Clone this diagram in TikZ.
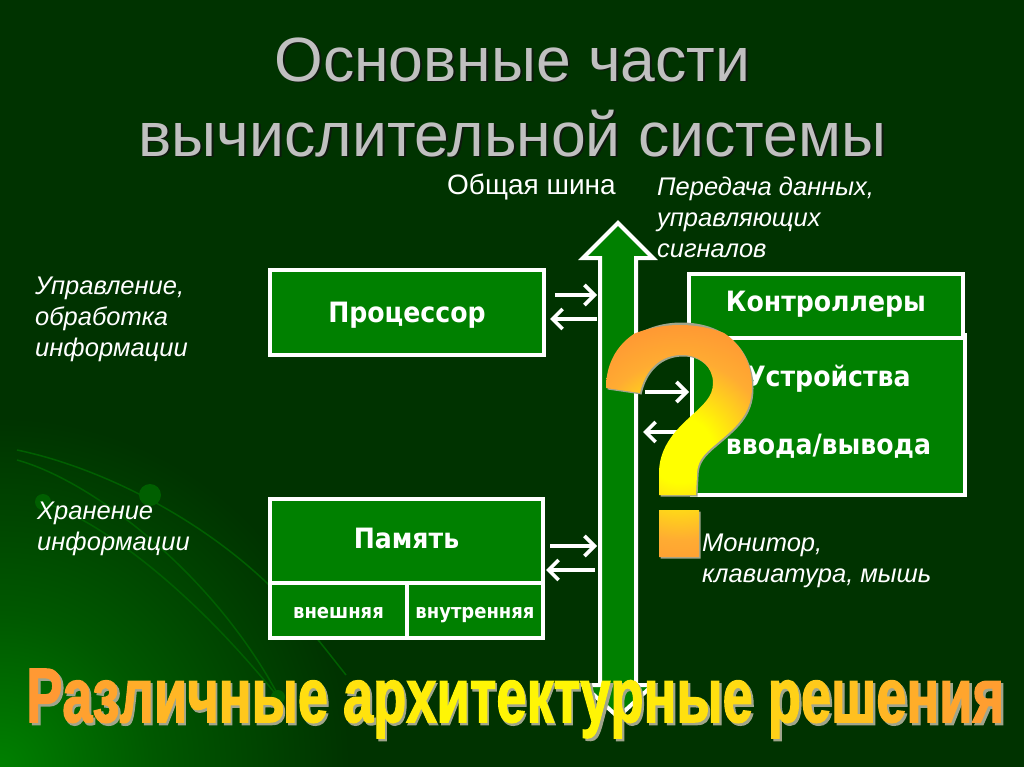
\documentclass[tikz,border=0pt]{standalone}
\usepackage{fontspec}
\usepackage{graphicx}
\usetikzlibrary{arrows.meta}
\setmainfont{Liberation Sans}
\newfontfamily\boxf{DejaVu Sans Condensed Bold}
\newfontfamily\heavyf[FakeBold=2]{Liberation Sans Bold}
\definecolor{bg}{RGB}{0,51,0}
\definecolor{bgmid}{RGB}{0,88,0}
\definecolor{gr}{RGB}{0,128,0}
\definecolor{curve}{RGB}{0,95,0}
\definecolor{ttl}{RGB}{192,192,192}
\definecolor{ttlsh}{RGB}{15,25,15}
\definecolor{qy}{RGB}{255,255,0}
\definecolor{qm}{RGB}{255,172,50}
\definecolor{qo}{RGB}{255,153,51}
\definecolor{qs}{RGB}{160,165,140}
\pgfdeclareradialshading{glow}{\pgfpoint{0bp}{0bp}}{color(0bp)=(gr); color(11bp)=(bgmid); color(25bp)=(bg); color(50bp)=(bg)}
\pgfdeclareradialshading{qshade}{\pgfpoint{0bp}{0bp}}{color(0bp)=(qy); color(6.5bp)=(qy); color(18bp)=(qm); color(25bp)=(qo); color(50bp)=(qo)}
\newcommand\gl[2]{\textcolor{qy!#1!qo}{#2}}
\newcommand\bottomtext{\gl{0}{Р}\gl{8}{а}\gl{12}{з}\gl{20}{л}\gl{28}{и}\gl{36}{ч}\gl{45}{н}\gl{55}{ы}\gl{68}{е} \gl{72}{а}\gl{78}{р}\gl{82}{х}\gl{90}{и}\gl{90}{т}\gl{90}{е}\gl{90}{к}\gl{90}{т}\gl{90}{у}\gl{82}{р}\gl{78}{н}\gl{70}{ы}\gl{65}{е} \gl{55}{р}\gl{47}{е}\gl{38}{ш}\gl{28}{е}\gl{20}{н}\gl{12}{и}\gl{5}{я}}
\newcommand\qpath{(606,388) .. controls (606,345) and (640,321) .. (680,321) .. controls (725,321) and (752,350) .. (752,387) .. controls (752,415) and (735,428) .. (715,445) .. controls (703,455) and (697,462) .. (697,475) -- (696,495) -- (659,495) -- (659,473) .. controls (659,450) and (672,433) .. (690,417) .. controls (703,405) and (713,397) .. (713,383) .. controls (713,367) and (700,355) .. (682,355) .. controls (660,355) and (645,370) .. (640,393) -- cycle (659,510) -- (699,510) -- (699,557) -- (659,557) -- cycle}
\tikzset{
 x=1pt,y=-1pt,
 greenbox/.style={draw=white,fill=gr,line width=3.4pt,outer sep=0pt,inner sep=0pt,text=white},
 boxlabel/.style={font=\boxf\fontsize{28}{34}\selectfont,text height=24pt},
 smalllabel/.style={font=\boxf\fontsize{20}{24}\selectfont,text height=16pt,text depth=1pt},
 note/.style={text=white,inner sep=0pt,anchor=north west,align=left,font=\itshape\fontsize{25.5}{31}\selectfont},
 link/.style={draw=white,line width=3.6pt,-{Straight Barb[length=10pt,width=20pt,line width=3.6pt]}},
 swoosh/.style={draw=curve,line width=1.5pt},
 dot/.style={fill=curve,draw=none}
}
\begin{document}
\begin{tikzpicture}
\useasboundingbox (0,0) rectangle (1024,767);
\fill[bg] (0,0) rectangle (1024,767);
\begin{scope}
\clip (0,0) rectangle (1024,767);
\shade[shading=glow] (0,767) circle (350);
\draw[swoosh] (17,450) .. controls (90,465) and (190,510) .. (267,583) .. controls (300,615) and (330,655) .. (346,675);
\draw[swoosh] (17,460) .. controls (90,480) and (210,570) .. (277,693);
\draw[swoosh] (43,502) .. controls (110,525) and (200,600) .. (278,697);
\fill[dot] (150,495) circle (11);
\fill[dot] (43,502) circle (8);
\fill[dot] (278,697) circle (7);
\end{scope}
% title
\node[text=ttlsh,inner sep=0pt,align=center,font=\fontsize{62.5}{75}\selectfont] (titleshadow) at (514.5,98.5) {Основные части\\вычислительной системы};
\node[text=ttl,inner sep=0pt,align=center,font=\fontsize{62.5}{75}\selectfont] (title) at (512.5,97) {Основные части\\вычислительной системы};
% notes
\node[text=white,inner sep=0pt,anchor=base west,font=\fontsize{28}{32}\selectfont] (busname) at (447,195) {Общая шина};
\node[note] (busnote) at (657,177) {Передача данных,\\управляющих\\сигналов};
\node[note] (ctrlnote) at (35,277) {Управление,\\обработка\\информации};
\node[note] (storenote) at (37,502) {Хранение\\информации};
\node[note] (ionote) at (702,534) {Монитор,\\клавиатура, мышь};
% bus
\path[draw=white,fill=gr,line width=4pt,line join=miter] (618,223) -- (653,258) -- (636,258) -- (636,685) -- (653,685) -- (618,717) -- (583,685) -- (600,685) -- (600,258) -- (583,258) -- cycle;
\node[minimum width=38pt,minimum height=426pt,inner sep=0pt,outer sep=0pt] (bus) at (618,472) {};
% boxes
\node[greenbox,boxlabel,text depth=5pt,minimum width=274pt,minimum height=85pt] (proc) at (407,312.5) {Процессор};
\node[greenbox,minimum width=273pt,minimum height=160pt] (dev) at (828.5,415) {};
\node[text=white,inner sep=0pt,align=center,yshift=3pt,font=\boxf\fontsize{28}{34}\selectfont] (devlabel) at (dev.center) {Устройства\\[34pt]ввода/вывода};
\node[greenbox,boxlabel,text depth=14pt,minimum width=274pt,minimum height=64pt] (ctrl) at (826,306) {Контроллеры};
\node[greenbox,boxlabel,text depth=10pt,minimum width=273pt,minimum height=84pt] (mem) at (406.5,541) {Память};
\node[greenbox,smalllabel,minimum width=137pt,minimum height=55pt] (ext) at (338.5,610.5) {внешняя};
\node[greenbox,smalllabel,minimum width=136pt,minimum height=55pt] (int) at (475,610.5) {внутренняя};
% links
\draw[link,shorten <=11pt,shorten >=2pt] (proc.east |- 0,295) -- (bus.west |- 0,295);
\draw[link,shorten <=2pt,shorten >=6pt] (bus.west |- 0,319) -- (proc.east |- 0,319);
\draw[link,shorten <=7pt,shorten >=2pt] (mem.east |- 0,546) -- (bus.west |- 0,546);
\draw[link,shorten <=4pt,shorten >=3pt] (bus.west |- 0,570) -- (mem.east |- 0,570);
\draw[link,shorten <=8pt,shorten >=3pt] (bus.east |- 0,392) -- (dev.west |- 0,392);
\draw[link,shorten <=10pt,shorten >=6pt] (dev.west |- 0,432) -- (bus.east |- 0,432);
% question mark
\fill[qs,shift={(1.5,1.5)}] \qpath;
\begin{scope}
\clip \qpath;
\shade[shading=qshade] (680,450) circle (125);
\end{scope}
% bottom text
\node[text=qs,inner sep=0pt,anchor=base west] (bottomshadow) at (28.5,724.5) {\resizebox{978pt}{53pt}{\heavyf\fontsize{74}{80}\selectfont Различные архитектурные решения}};
\node[inner sep=0pt,anchor=base west] (bottom) at (26,722) {\resizebox{978pt}{53pt}{\heavyf\fontsize{74}{80}\selectfont\bottomtext}};
\end{tikzpicture}
\end{document}
